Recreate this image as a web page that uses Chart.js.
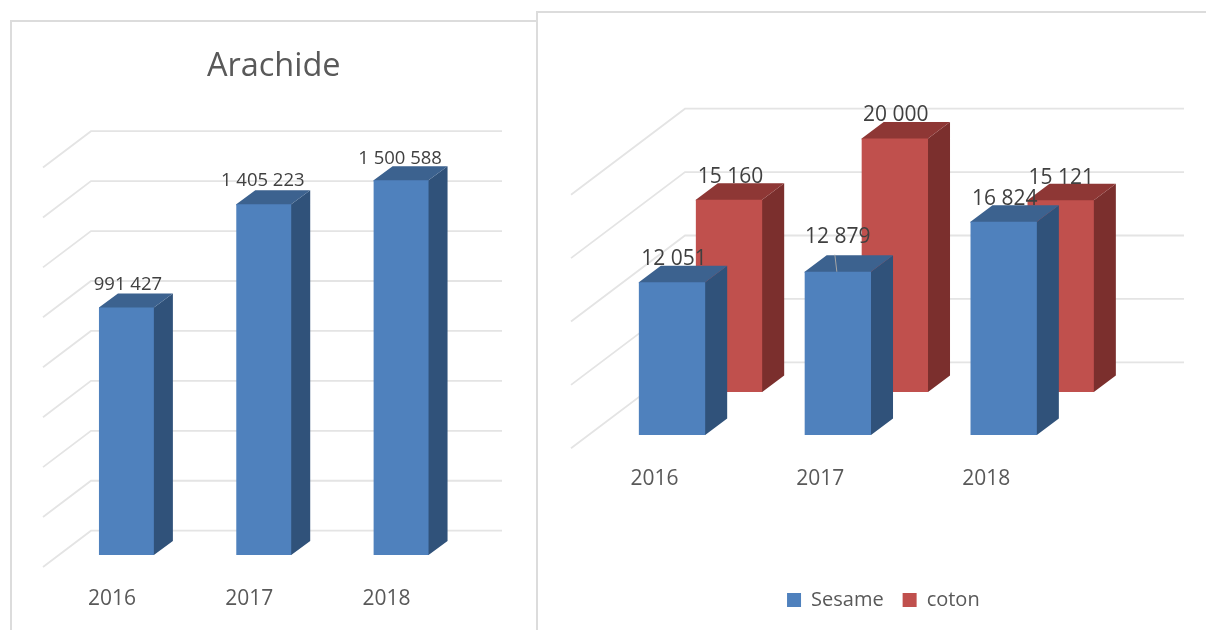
<!DOCTYPE html>
<html>
<head>
<meta charset="utf-8">
<style>
  body { margin: 0; background: #fff; width: 1206px; height: 630px; overflow: hidden; position: relative; }
  .panel { position: absolute; border: 2px solid #dcdcdc; box-sizing: border-box; }
  canvas { position: absolute; top: 0; filter: blur(0.4px); }
</style>
<script src="https://cdn.jsdelivr.net/npm/chart.js@4/dist/chart.umd.min.js"></script>
</head>
<body>
<div class="panel" style="left:10px;top:20px;width:540px;height:640px"></div>
<div class="panel" style="left:536px;top:11px;width:700px;height:660px;background:#fff"></div>
<canvas id="arachideChart" width="537" height="630" style="left:0"></canvas>
<canvas id="cultureChart" width="669" height="630" style="left:537px"></canvas>
<script>
const years = ["2016", "2017", "2018"];
const arachide = [991427, 1405223, 1500588];
const sesame = [12051, 12879, 16824];
const coton = [15160, 20000, 15121];

const arachideMax = 1600000;
const arachideStep = 200000;
const cultureMax = 20000;
const cultureStep = 5000;

const BLUE = "#4f81bd", BLUE_SIDE = "#30527a", BLUE_TOP = "#3c628f";
const RED = "#c0504d", RED_SIDE = "#7b2f2d", RED_TOP = "#8e3735";
const GRID = "#e4e4e4";
const FONT = "'Open Sans'";

function spaced(v){
  return String(v).replace(/\B(?=(\d{3})+$)/g, " ");
}

//draws the fake 3d: back wall lines, the side and top of each bar, labels
function box3d(cfg){
  return {
    id: "box3d",
    afterLayout(chart){
      if (cfg.titleShift) chart.titleBlock.left += cfg.titleShift;
      if (cfg.titleShift) chart.titleBlock.right += cfg.titleShift;
      if (cfg.legendShift){
        chart.legend.left += cfg.legendShift[0];
        chart.legend.right += cfg.legendShift[0];
        chart.legend.top += cfg.legendShift[1];
        chart.legend.bottom += cfg.legendShift[1];
      }
    },
    beforeDatasetsDraw(chart){
      const ctx = chart.ctx, y = chart.scales.y;
      ctx.save();
      ctx.strokeStyle = GRID;
      ctx.lineWidth = 1.8;
      y.ticks.forEach(function(t){
        const p = y.getPixelForValue(t.value);
        ctx.beginPath();
        ctx.moveTo(cfg.frontX, p + cfg.frontDy);
        ctx.lineTo(cfg.backX, p + cfg.backDy);
        ctx.lineTo(cfg.endX, p + cfg.backDy);
        ctx.stroke();
      });
      ctx.restore();
    },
    beforeDatasetDraw(chart, args){
      const ctx = chart.ctx, s = cfg.series[args.index];
      ctx.save();
      ctx.translate(s.shiftX, s.shiftY);
      args.meta.data.forEach(function(bar){
        //the faces start a little under the front so no seam shows
        const right = bar.x + bar.width / 2, left = bar.x - bar.width / 2;
        ctx.fillStyle = s.side;
        ctx.beginPath();
        ctx.moveTo(right - 1, bar.y);
        ctx.lineTo(right, bar.y);
        ctx.lineTo(right + cfg.dx, bar.y - cfg.dy);
        ctx.lineTo(right + cfg.dx, bar.base - cfg.dy);
        ctx.lineTo(right, bar.base);
        ctx.lineTo(right - 1, bar.base);
        ctx.closePath();
        ctx.fill();
        ctx.fillStyle = s.top;
        ctx.beginPath();
        ctx.moveTo(left, bar.y + 1);
        ctx.lineTo(left, bar.y);
        ctx.lineTo(left + cfg.dx, bar.y - cfg.dy);
        ctx.lineTo(right + cfg.dx, bar.y - cfg.dy);
        ctx.lineTo(right, bar.y);
        ctx.lineTo(right, bar.y + 1);
        ctx.closePath();
        ctx.fill();
      });
    },
    afterDatasetDraw(chart){
      chart.ctx.restore();
    },
    afterDatasetsDraw(chart){
      const ctx = chart.ctx;
      ctx.save();
      ctx.font = cfg.labelSize + "px " + FONT;
      ctx.fillStyle = "#404040";
      ctx.textAlign = "center";
      ctx.textBaseline = "middle";
      cfg.series.forEach(function(s, d){
        const meta = chart.getDatasetMeta(d);
        meta.data.forEach(function(bar, i){
          const lx = bar.x + s.shiftX + s.nudge[i];
          const ly = bar.y + s.shiftY - s.lift[i];
          if (s.lift[i] > 30){
            //leader line when the label had to move away from its bar
            ctx.save();
            ctx.strokeStyle = "#a6a6a6";
            ctx.lineWidth = 1;
            ctx.beginPath();
            ctx.moveTo(lx - 3, ly + 18);
            ctx.lineTo(lx - 1, bar.y + s.shiftY);
            ctx.stroke();
            ctx.restore();
          }
          ctx.fillText(spaced(chart.data.datasets[d].data[i]), lx, ly);
        });
      });
      ctx.restore();
    }
  };
}

function scales(max, step, labelOffset, tickPadding, fitHeight){
  return {
    x: {
      border: { display: false },
      grid: { display: false, drawTicks: false },
      ticks: {
        color: "#595959",
        font: { family: FONT, size: 21 },
        padding: tickPadding,
        labelOffset: labelOffset,
        maxRotation: 0,
        autoSkip: false
      },
      afterFit: function(s){ s.height = fitHeight(s.chart); }
    },
    y: {
      display: false,
      min: 0,
      max: max,
      ticks: { stepSize: step }
    }
  };
}

new Chart(document.getElementById("arachideChart"), {
  type: "bar",
  data: {
    labels: years,
    datasets: [{
      label: "Arachide",
      data: arachide,
      backgroundColor: BLUE,
      borderWidth: 0,
      barPercentage: 0.4,
      categoryPercentage: 1,
      clip: false
    }]
  },
  options: {
    responsive: false,
    animation: false,
    layout: { padding: { left: 57.75, right: 67.25, top: 0, bottom: 0 } },
    plugins: {
      legend: { display: false },
      tooltip: { enabled: false },
      title: {
        display: true,
        text: "Arachide",
        color: "#595959",
        font: { family: FONT, size: 32.5, weight: "normal" },
        padding: { top: 47.5, bottom: 69 }
      }
    },
    scales: scales(arachideMax, arachideStep, -14.5, 31, function(){ return 75; })
  },
  plugins: [box3d({
    dx: 19, dy: 14,
    frontX: 43, frontDy: 12,
    backX: 91, backDy: -24.3,
    endX: 502,
    titleShift: 10,
    labelSize: 18.5,
    series: [{
      shiftX: 0, shiftY: 0, side: BLUE_SIDE, top: BLUE_TOP,
      lift: [23, 23, 22], nudge: [1.5, -1, -1]
    }]
  })]
});

new Chart(document.getElementById("cultureChart"), {
  type: "bar",
  data: {
    labels: years,
    datasets: [{
      label: "Sesame",
      data: sesame,
      backgroundColor: BLUE,
      borderWidth: 0,
      barPercentage: 0.4,
      categoryPercentage: 1,
      grouped: false,
      clip: false
    }, {
      label: "coton",
      data: coton,
      backgroundColor: RED,
      borderWidth: 0,
      barPercentage: 0.4,
      categoryPercentage: 1,
      grouped: false,
      clip: false
    }]
  },
  options: {
    responsive: false,
    animation: false,
    layout: { padding: { left: 52.1, right: 119.4, top: 181.4, bottom: 0 } },
    plugins: {
      tooltip: { enabled: false },
      legend: {
        position: "bottom",
        labels: {
          color: "#595959",
          font: { family: FONT, size: 20 },
          boxWidth: 14,
          boxHeight: 14,
          padding: 19
        }
      }
    },
    scales: scales(cultureMax, cultureStep, -17.5, 31, function(c){ return 195 - c.legend.height; })
  },
  plugins: [box3d({
    dx: 22, dy: 16.5,
    frontX: 34, frontDy: 13.3,
    backX: 148, backDy: -72.7,
    endX: 647,
    legendShift: [45.5, -10],
    labelSize: 21,
    series: [
      { shiftX: 0, shiftY: 0, side: BLUE_SIDE, top: BLUE_TOP, lift: [23, 35, 23], nudge: [2, 0, 1] },
      { shiftX: 57, shiftY: -43, side: RED_SIDE, top: RED_TOP, lift: [23, 23, 22.5], nudge: [1.5, 1, 0.5] }
    ]
  })]
});
</script>
</body>
</html>
